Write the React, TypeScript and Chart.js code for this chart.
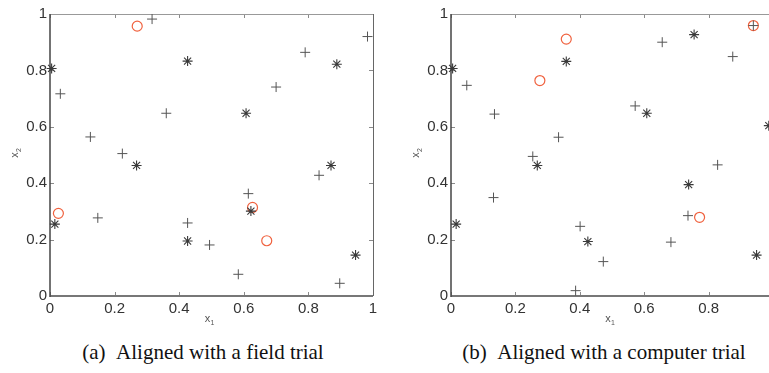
import React, { useEffect, useRef } from "react";
import { Chart, registerables } from "chart.js";

Chart.register(...registerables);

// Axis ticks
const tickValues = [0, 0.2, 0.4, 0.6, 0.8, 1];
const tickLabels = ["0", "0.2", "0.4", "0.6", "0.8", "1"];

// Panel (a): aligned with a field trial
const fieldCircleX = [0.27, 0.026, 0.627, 0.671];
const fieldCircleY = [0.957, 0.293, 0.314, 0.196];
const fieldStarX = [0.005, 0.426, 0.888, 0.607, 0.268, 0.015, 0.426, 0.87, 0.622, 0.946];
const fieldStarY = [0.807, 0.833, 0.822, 0.648, 0.463, 0.255, 0.195, 0.463, 0.301, 0.145];
const fieldPlusX = [0.316, 0.032, 0.36, 0.125, 0.224, 0.983, 0.79, 0.7, 0.148, 0.426, 0.833, 0.614, 0.494, 0.583, 0.897];
const fieldPlusY = [0.982, 0.717, 0.648, 0.564, 0.505, 0.92, 0.864, 0.741, 0.277, 0.259, 0.428, 0.363, 0.181, 0.077, 0.045];

// Panel (b): aligned with a computer trial
const compCircleX = [0.358, 0.276, 0.939, 0.772];
const compCircleY = [0.911, 0.764, 0.959, 0.279];
const compStarX = [0.005, 0.358, 0.755, 0.608, 0.987, 0.268, 0.016, 0.425, 0.738, 0.949];
const compStarY = [0.807, 0.832, 0.927, 0.648, 0.604, 0.463, 0.255, 0.193, 0.395, 0.145];
const compPlusX = [0.049, 0.135, 0.334, 0.254, 0.939, 0.656, 0.875, 0.572, 0.132, 0.401, 0.387, 0.828, 0.736, 0.683, 0.473];
const compPlusY = [0.747, 0.645, 0.563, 0.495, 0.959, 0.9, 0.849, 0.674, 0.349, 0.247, 0.019, 0.465, 0.285, 0.191, 0.122];

const captionA = "(a)\u2002Aligned with a field trial";
const captionB = "(b)\u2002Aligned with a computer trial";

const pts = (xs: number[], ys: number[]) => xs.map((x, i) => ({ x, y: ys[i] }));

const framePlugin = {
  id: "frame",
  beforeDatasetsDraw(chart: any) {
    const { ctx, chartArea: a, scales } = chart;
    const x = scales.x;
    const y = scales.y;
    ctx.save();
    // inward tick marks
    ctx.strokeStyle = "#8a8a8a";
    ctx.lineWidth = 1;
    ctx.beginPath();
    for (const v of tickValues) {
      const px = Math.round(x.getPixelForValue(v)) + 0.5;
      ctx.moveTo(px, a.top);
      ctx.lineTo(px, a.top + 4);
      ctx.moveTo(px, a.bottom);
      ctx.lineTo(px, a.bottom - 4);
      const py = Math.round(y.getPixelForValue(v)) + 0.5;
      ctx.moveTo(a.left, py);
      ctx.lineTo(a.left + 4, py);
      ctx.moveTo(a.right, py);
      ctx.lineTo(a.right - 4, py);
    }
    ctx.stroke();
    // box
    ctx.lineWidth = 1;
    ctx.strokeStyle = "#999";
    ctx.beginPath();
    ctx.moveTo(a.left, a.top + 0.5);
    ctx.lineTo(a.right, a.top + 0.5);
    ctx.stroke();
    ctx.strokeStyle = "#666";
    ctx.beginPath();
    ctx.moveTo(a.right + 0.5, a.top);
    ctx.lineTo(a.right + 0.5, a.bottom);
    ctx.stroke();
    ctx.lineWidth = 2;
    ctx.strokeStyle = "#777";
    ctx.beginPath();
    ctx.moveTo(a.left, a.bottom);
    ctx.lineTo(a.right, a.bottom);
    ctx.stroke();
    ctx.lineWidth = 1.5;
    ctx.strokeStyle = "#444";
    ctx.beginPath();
    ctx.moveTo(a.left, a.top);
    ctx.lineTo(a.left, a.bottom + 1);
    ctx.stroke();
    ctx.restore();
  },
  afterDraw(chart: any) {
    const { ctx, chartArea: a } = chart;
    ctx.save();
    ctx.fillStyle = "#555";
    ctx.textBaseline = "middle";
    ctx.textAlign = "center";
    const drawSub = (main: string, sub: string) => {
      ctx.font = '11px "Liberation Sans", Arial, sans-serif';
      ctx.fillText(main, -2, 0);
      ctx.font = '7px "Liberation Sans", Arial, sans-serif';
      ctx.fillText(sub, 3, 4);
    };
    // x title
    ctx.save();
    ctx.translate((a.left + a.right) / 2 - 2, a.bottom + 23);
    drawSub("x", "1");
    ctx.restore();
    // y title
    ctx.save();
    ctx.translate(a.left - 35, (a.top + a.bottom) / 2 - 2);
    ctx.rotate(-Math.PI / 2);
    drawSub("x", "2");
    ctx.restore();
    ctx.restore();
  },
};

function Panel(props: {
  left: number;
  yWidth: number;
  circleX: number[];
  circleY: number[];
  starX: number[];
  starY: number[];
  plusX: number[];
  plusY: number[];
  hideLastX: boolean;
}) {
  const ref = useRef<HTMLCanvasElement>(null);
  useEffect(() => {
    const chart = new Chart(ref.current as HTMLCanvasElement, {
      type: "scatter",
      data: {
        datasets: [
          {
            data: pts(props.plusX, props.plusY),
            pointStyle: "cross",
            pointRadius: 5,
            borderColor: "#555",
            borderWidth: 1,
            clip: false,
          } as any,
          {
            data: pts(props.starX, props.starY),
            pointStyle: "star",
            pointRadius: 5,
            borderColor: "#3a3a3a",
            borderWidth: 1.1,
            clip: false,
          } as any,
          {
            data: pts(props.circleX, props.circleY),
            pointStyle: "circle",
            pointRadius: 5,
            borderColor: "#f0623f",
            backgroundColor: "rgba(0,0,0,0)",
            borderWidth: 1.2,
            clip: false,
          } as any,
        ],
      },
      options: {
        animation: false,
        responsive: false,
        events: [],
        layout: { padding: { top: 14, right: 12, left: 0, bottom: 0 } },
        plugins: { legend: { display: false }, tooltip: { enabled: false } },
        scales: {
          x: {
            type: "linear",
            min: 0,
            max: 1,
            grid: { display: false, drawTicks: false },
            border: { display: false },
            afterBuildTicks: (s: any) => {
              s.ticks = tickValues.map((v) => ({ value: v }));
            },
            afterFit: (s: any) => {
              s.height = 44;
            },
            ticks: {
              padding: 4,
              maxRotation: 0,
              color: "#333",
              font: { family: '"Liberation Sans Narrow", "Liberation Sans", Arial, sans-serif', size: 15 },
              callback: (v: any) => {
                const i = tickValues.indexOf(Number(v));
                if (props.hideLastX && i === tickValues.length - 1) return "";
                return i >= 0 ? tickLabels[i] : "";
              },
            },
          },
          y: {
            type: "linear",
            min: 0,
            max: 1,
            grid: { display: false, drawTicks: false },
            border: { display: false },
            afterBuildTicks: (s: any) => {
              s.ticks = tickValues.map((v) => ({ value: v }));
            },
            afterFit: (s: any) => {
              s.width = props.yWidth;
            },
            ticks: {
              padding: 3,
              color: "#333",
              font: { family: '"Liberation Sans Narrow", "Liberation Sans", Arial, sans-serif', size: 15 },
              callback: (v: any) => {
                const i = tickValues.indexOf(Number(v));
                return i >= 0 ? tickLabels[i] : "";
              },
            },
          },
        },
      } as any,
      plugins: [framePlugin],
    });
    return () => chart.destroy();
  }, []);
  return (
    <canvas
      ref={ref}
      width={385}
      height={340}
      style={{ position: "absolute", left: props.left, top: 0, width: 385, height: 340 }}
    />
  );
}

const captionStyle = (center: number): React.CSSProperties => ({
  position: "absolute",
  left: center - 200,
  width: 400,
  top: 341,
  textAlign: "center",
  fontFamily: '"Liberation Serif", "Times New Roman", serif',
  fontSize: 21,
  lineHeight: "22px",
  color: "#111",
  whiteSpace: "nowrap",
});

export default function App() {
  return (
    <div
      style={{
        position: "fixed",
        left: 0,
        top: 0,
        width: 769,
        height: 373,
        overflow: "hidden",
        background: "#fff",
      }}
    >
      <Panel
        left={0}
        yWidth={50}
        circleX={fieldCircleX}
        circleY={fieldCircleY}
        starX={fieldStarX}
        starY={fieldStarY}
        plusX={fieldPlusX}
        plusY={fieldPlusY}
        hideLastX={false}
      />
      <Panel
        left={400}
        yWidth={51}
        circleX={compCircleX}
        circleY={compCircleY}
        starX={compStarX}
        starY={compStarY}
        plusX={compPlusX}
        plusY={compPlusY}
        hideLastX={true}
      />
      <div style={captionStyle(203)}>{captionA}</div>
      <div style={captionStyle(604)}>{captionB}</div>
    </div>
  );
}
